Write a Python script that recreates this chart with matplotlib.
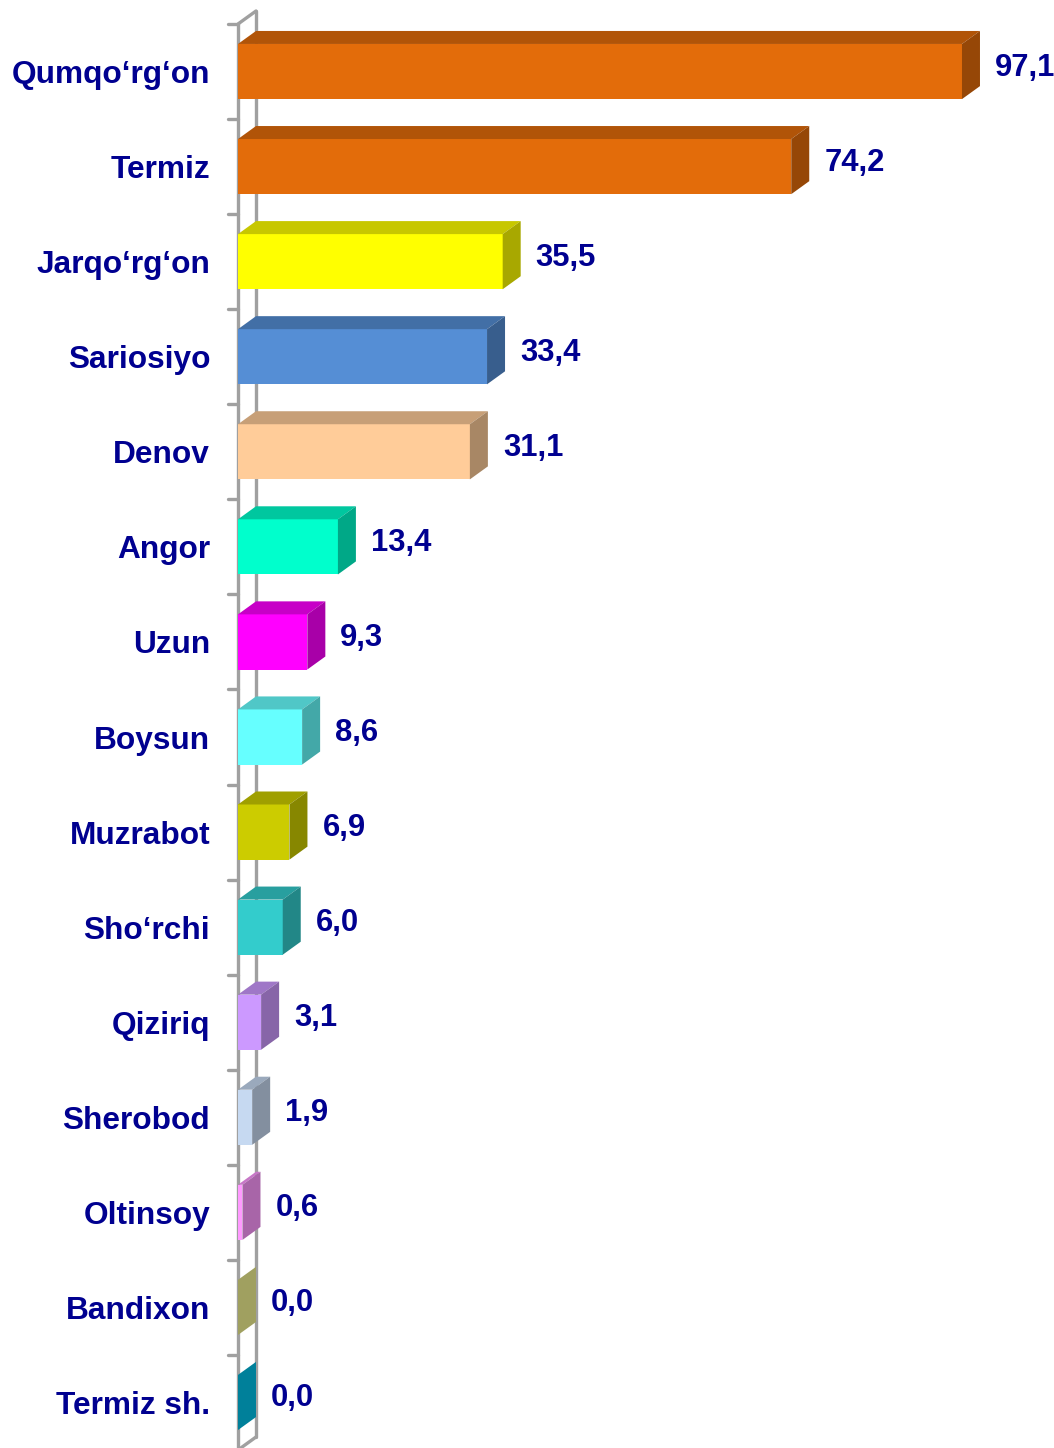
import numpy as np
import matplotlib.pyplot as plt
from matplotlib.patches import Polygon
from matplotlib.colors import to_rgb

plt.rcParams['font.family'] = ['Liberation Sans', 'DejaVu Sans']

districts = ["Qumqo‘rg‘on", "Termiz", "Jarqo‘rg‘on", "Sariosiyo", "Denov", "Angor",
             "Uzun", "Boysun", "Muzrabot", "Sho‘rchi", "Qiziriq", "Sherobod",
             "Oltinsoy", "Bandixon", "Termiz sh."]
values = [97.1, 74.2, 35.5, 33.4, 31.1, 13.4, 9.3, 8.6, 6.9, 6.0, 3.1, 1.9, 0.6, 0.0, 0.0]
front_colors = ["#E36C0A", "#E36C0A", "#FFFF00", "#558ED5", "#FFCC99", "#00FFCC",
                "#FF00FF", "#66FFFF", "#CCCC00", "#33CCCC", "#CC99FF", "#C6D9F1",
                "#FF99FF", "#F2F291", "#00C2E9"]

TEXT = "#000090"
WALL = "#A0A0A0"

W, H = 1054, 1448
fig = plt.figure(figsize=(W / 100, H / 100), dpi=100)
ax_left, ax_top, ax_bot = 238, 24, 1450
ax = fig.add_axes([ax_left / W, 1 - ax_bot / H, (W - ax_left) / W, (ax_bot - ax_top) / H])

px_per_unit = 7.456
xmax = (W - ax_left) / px_per_unit
n = len(values)
ax.set_xlim(0, xmax)
ax.set_ylim(n - 0.5, -0.5)
cat_px = (ax_bot - ax_top) / n

# 3d depth offsets in data units
dx = 18 / px_per_unit
dy = 13 / cat_px
h = 0.58


def shade(c, f):
    r, g, b = to_rgb(c)
    return (r * f, g * f, b * f)


# side wall
wall_kw = dict(color=WALL, lw=2.4, clip_on=False, zorder=1, solid_capstyle='round')
ax.plot([0, 0], [-0.5, n - 0.5], **wall_kw)
ax.plot([dx, dx], [-0.5 - dy, n - 0.5 - dy], **wall_kw)
ax.plot([0, dx], [-0.5, -0.5 - dy], **wall_kw)
ax.plot([0, dx], [n - 0.5, n - 0.5 - dy], **wall_kw)
tick_len = 10 / px_per_unit
for k in range(n):
    ax.plot([-tick_len, 0], [k - 0.5, k - 0.5], **wall_kw)

y = np.arange(n)
ax.barh(y, values, height=h, color=front_colors, zorder=3, linewidth=0)
for yi, v, c in zip(y, values, front_colors):
    top = [(0, yi - h / 2), (v, yi - h / 2), (v + dx, yi - h / 2 - dy), (dx, yi - h / 2 - dy)]
    side = [(v, yi - h / 2), (v + dx, yi - h / 2 - dy), (v + dx, yi + h / 2 - dy), (v, yi + h / 2)]
    ax.add_patch(Polygon(top, closed=True, facecolor=shade(c, 0.78), lw=0, zorder=3))
    ax.add_patch(Polygon(side, closed=True, facecolor=shade(c, 0.66), lw=0, zorder=3))
    ax.text(v + dx + 15 / px_per_unit, yi - 4 / cat_px, f"{v:.1f}".replace(".", ","),
            ha='left', va='center', fontsize=22.3, fontweight='bold', color=TEXT, zorder=5)

ax.set_yticks(y)
ax.set_yticklabels(districts, fontsize=22.8, fontweight='bold', color=TEXT)
ax.tick_params(axis='y', length=0, pad=20)
ax.set_xticks([])
for s in ax.spines.values():
    s.set_visible(False)
ax.patch.set_alpha(0)

fig.savefig("out.png", dpi=100)
